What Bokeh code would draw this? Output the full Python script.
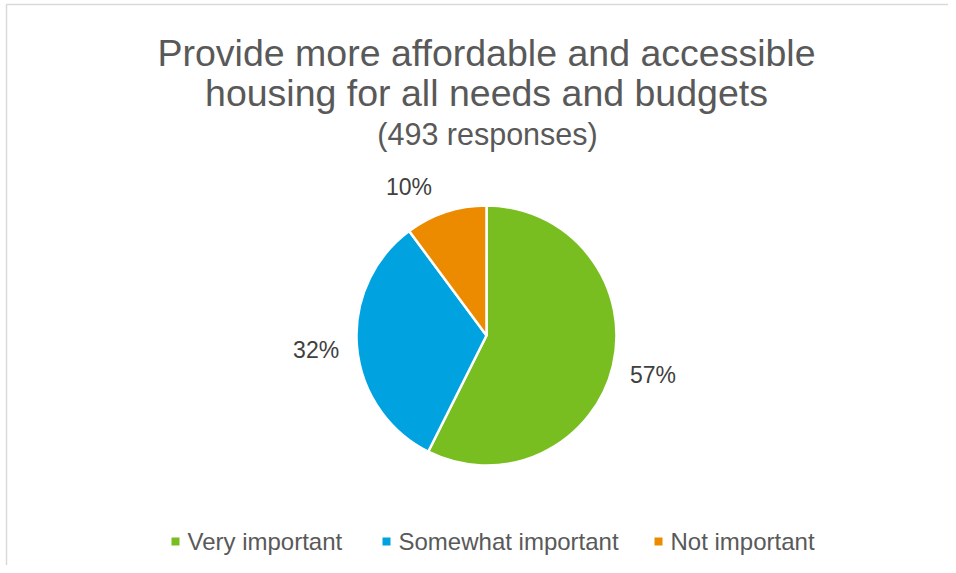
import math
from bokeh.plotting import figure
from bokeh.models import Range1d, ColumnDataSource
from bokeh.core.properties import value
from bokeh.embed import file_html
from bokeh.resources import INLINE

# Data
categories = ["Very important", "Somewhat important", "Not important"]
counts = [283, 160, 50]
labels = ["57%", "32%", "10%"]
colors = ["#78BE20", "#00A3E0", "#ED8B00"]
title_lines = ["Provide more affordable and accessible", "housing for all needs and budgets"]
subtitle = "(493 responses)"

W, H = 948, 565
FONT = "Liberation Sans"

p = figure(width=W, height=H, output_backend="svg", toolbar_location=None,
           x_range=Range1d(0, W), y_range=Range1d(-H, 0),
           min_border=0, outline_line_color=None)
p.axis.visible = False
p.grid.visible = False

# chart border
p.quad(left=[6], right=[W + 20], top=[-4], bottom=[-H - 20],
       fill_color=None, line_color="#d9d9d9", line_width=1.5)

# pie
cx, cy, r = 486, -335, 130
total = sum(counts)
starts, ends = [], []
acc = 0.0
for c in counts:
    a0 = math.pi / 2 - 2 * math.pi * acc / total
    acc += c
    a1 = math.pi / 2 - 2 * math.pi * acc / total
    starts.append(a0)
    ends.append(a1)
src = ColumnDataSource(dict(start=starts, end=ends, color=colors, cat=categories))
p.wedge(x=cx, y=cy, radius=r, start_angle="start", end_angle="end",
        direction="clock", fill_color="color", line_color="white", line_width=2.5,
        source=src)

# data labels placed outside the pie
lab_x, lab_y = [], []
for a0, a1 in zip(starts, ends):
    mid = (a0 + a1) / 2
    d = r + 41
    lx = cx + d * math.cos(mid)
    ly = cy + d * math.sin(mid)
    # labels near the top are nudged sideways like Excel's outside-end placement
    if math.sin(mid) > 0.9:
        lx += 24 * (1 if math.cos(mid) > 0 else -1)
        ly -= 14
    lab_x.append(lx)
    lab_y.append(ly)
p.text(x=lab_x, y=lab_y, text=labels, text_font=value(FONT), text_font_size="23px",
       text_color="#404040", text_align="center", text_baseline="middle")

# title
p.text(x=[486, 486], y=[-52, -92], text=title_lines, text_font=value(FONT),
       text_font_size="37.5px", text_color="#595959", text_align="center",
       text_baseline="middle")
p.text(x=[487], y=[-133], text=[subtitle], text_font=value(FONT),
       text_font_size="30.5px", text_color="#595959", text_align="center",
       text_baseline="middle")

# legend
leg_x = [175, 386, 658]
p.scatter(x=leg_x, y=[-541] * 3, marker="square", size=8, fill_color=colors, line_color=None)
p.text(x=[x + 12 for x in leg_x], y=[-541] * 3, text=categories, text_font=value(FONT),
       text_font_size="24px", text_color="#595959", text_align="left",
       text_baseline="middle")

open("out.html", "w").write(file_html(p, INLINE))
